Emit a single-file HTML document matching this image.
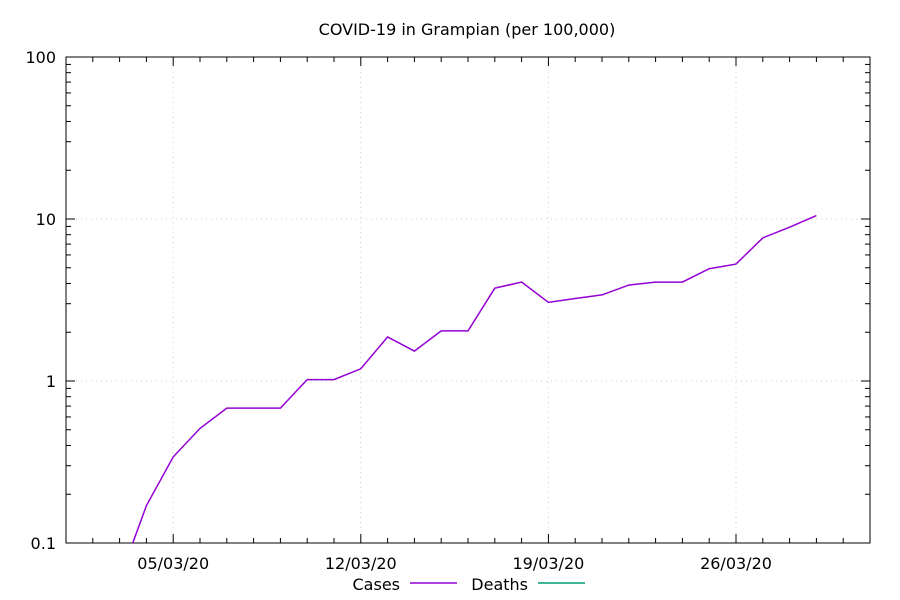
<!DOCTYPE html>
<html><head><meta charset="utf-8"><style>
body{margin:0;background:#fff;}
svg{display:block;font-family:"DejaVu Sans","Liberation Sans",sans-serif;}
</style></head><body>
<svg id="chart" width="900" height="600">
<text x="467" y="35" text-anchor="middle" font-size="16">COVID-19 in Grampian (per 100,000)</text>
<g id="grid"></g><g id="ticks"></g>
<rect x="66" y="57" width="804" height="486" fill="none" stroke="#000" stroke-width="1"/>
<clipPath id="clip"><rect x="66" y="57" width="804" height="486"/></clipPath>
<g id="series" clip-path="url(#clip)"></g>
<g>
<text x="400" y="590" text-anchor="end" font-size="16">Cases</text>
<line x1="410" y1="583" x2="457" y2="583" stroke="#9400d3" stroke-width="1.5"/>
<text x="528" y="590" text-anchor="end" font-size="16">Deaths</text>
<line x1="538" y1="583" x2="585" y2="583" stroke="#009e73" stroke-width="1.5"/>
</g>
</svg>
<script>
const caseDays=[3,4,5,6,7,8,9,10,11,12,13,14,15,16,17,18,19,20,21,22,23,24,25,26,27,28,29];
const caseValues=[0.06,0.17,0.34,0.51,0.68,0.68,0.68,1.02,1.02,1.19,1.87,1.53,2.04,2.04,3.74,4.08,3.06,3.23,3.4,3.91,4.08,4.08,4.93,5.27,7.65,8.9,10.5];
const deathDays=[];
const deathValues=[];
const xTickDays=[5,12,19,26];
const xTickLabels=["05/03/20","12/03/20","19/03/20","26/03/20"];
const yTickValues=[0.1,1,10,100];
const yTickLabels=["0.1","1","10","100"];
const X0=66,X1=870,Y0=543,Y1=57,DMIN=1,DMAX=31,LMIN=-1,LMAX=2;
const xs=d=>X0+(d-DMIN)/(DMAX-DMIN)*(X1-X0);
const ys=v=>Y0-(Math.log10(v)-LMIN)/(LMAX-LMIN)*(Y0-Y1);
const NS="http://www.w3.org/2000/svg";
function mk(t,a,p){const e=document.createElementNS(NS,t);for(const k in a)e.setAttribute(k,a[k]);p.appendChild(e);return e;}
const grid=document.getElementById('grid'),ticks=document.getElementById('ticks'),ser=document.getElementById('series');
xTickDays.forEach((d,i)=>{const x=xs(d);
 const g=mk('line',{x1:x,y1:Y1,x2:x,y2:Y0,stroke:'#ccc','stroke-dasharray':'1,4'},grid);
 
 const t=mk('text',{x:x,y:569,'text-anchor':'middle','font-size':'16'},ticks);t.textContent=xTickLabels[i];
 });
for(let d=DMIN;d<=DMAX;d++){const x=xs(d);const L=xTickDays.includes(d)?9:5;
 mk('line',{x1:x,y1:Y0,x2:x,y2:Y0-L,stroke:'#000'},ticks);mk('line',{x1:x,y1:Y1,x2:x,y2:Y1+L,stroke:'#000'},ticks);}
yTickValues.forEach((v,i)=>{const y=ys(v);
 if(i>0&&i<yTickValues.length-1){const g=mk('line',{x1:X0,y1:y,x2:X1,y2:y,stroke:'#ccc','stroke-dasharray':'1,4'},grid);
 }
 mk('line',{x1:X0,y1:y,x2:X0+9,y2:y,stroke:'#000'},ticks);mk('line',{x1:X1,y1:y,x2:X1-9,y2:y,stroke:'#000'},ticks);
 const t=mk('text',{x:56,y:y+6,'text-anchor':'end','font-size':'16'},ticks);t.textContent=yTickLabels[i];
 
 if(i<yTickValues.length-1)for(let m=2;m<=9;m++){const yy=ys(v*m);
  mk('line',{x1:X0,y1:yy,x2:X0+5,y2:yy,stroke:'#000'},ticks);mk('line',{x1:X1,y1:yy,x2:X1-5,y2:yy,stroke:'#000'},ticks);}});
const cp=mk('polyline',{points:caseDays.map((d,i)=>xs(d)+','+ys(caseValues[i])).join(' '),fill:'none',stroke:'#9400d3','stroke-width':1.5},ser);

if(deathDays.length){const dp=mk('polyline',{points:deathDays.map((d,i)=>xs(d)+','+ys(deathValues[i])).join(' '),fill:'none',stroke:'#009e73','stroke-width':1.5},ser);
}
</script>
</body></html>
